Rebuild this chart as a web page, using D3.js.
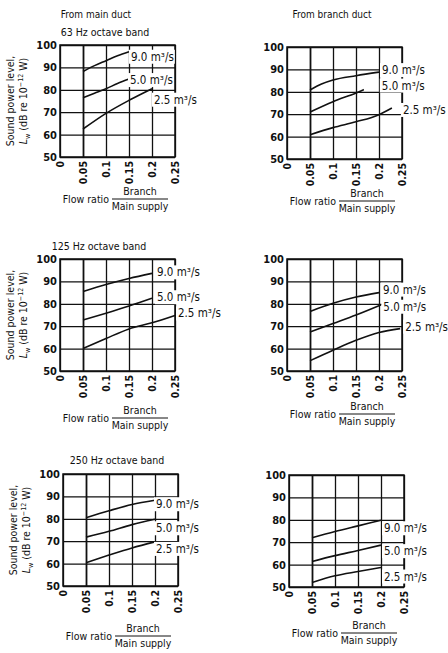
<!DOCTYPE html>
<html>
<head>
<meta charset="utf-8">
<script src="https://cdn.jsdelivr.net/npm/d3@7"></script>
<style>
  body { margin: 0; background: #fff; }
  svg { display: block; }
  text { font-family: "Liberation Sans Narrow", "DejaVu Sans Condensed", sans-serif; fill: #111; }
</style>
</head>
<body>
<div id="chart"></div>
<script>
// Column and row headings
const ducts = ["From main duct", "From branch duct"];
const bands = ["63 Hz octave band", "125 Hz octave band", "250 Hz octave band"];
const flowLabels = ["9.0 m³/s", "5.0 m³/s", "2.5 m³/s"];

// Axis ticks
const xTicks = [0, 0.05, 0.1, 0.15, 0.2, 0.25];
const xTickLabels = ["0", "0.05", "0.1", "0.15", "0.2", "0.25"];
const yTicks = [50, 60, 70, 80, 90, 100];

// Curves as [flow ratio, sound power level dB]
// 63 Hz, from main duct
const main63_9  = [[0.05, 88.2], [0.075, 90.8], [0.1, 93], [0.125, 95.2], [0.15, 97]];
const main63_5  = [[0.05, 76.5], [0.075, 78.5], [0.1, 80.5], [0.125, 82.8], [0.15, 84.8]];
const main63_25 = [[0.05, 62.5], [0.1, 69.5], [0.15, 75.3], [0.2, 80.5]];
// 63 Hz, from branch duct
const branch63_9  = [[0.05, 80.8], [0.075, 83.5], [0.1, 85.3], [0.15, 87.2], [0.2, 88.8]];
const branch63_5  = [[0.05, 71], [0.1, 75.6], [0.15, 79.5], [0.167, 81]];
const branch63_25 = [[0.05, 60.8], [0.1, 64], [0.15, 66.6], [0.2, 69.8], [0.228, 72.8]];
// 125 Hz, from main duct
const main125_9  = [[0.05, 85.5], [0.1, 88.6], [0.15, 91.3], [0.2, 93.6]];
const main125_5  = [[0.05, 72.8], [0.1, 75.8], [0.15, 79], [0.2, 82.5]];
const main125_25 = [[0.05, 60], [0.1, 64.5], [0.15, 68.8], [0.2, 71.5], [0.25, 74.8]];
// 125 Hz, from branch duct
const branch125_9  = [[0.05, 76.6], [0.1, 80.2], [0.15, 83], [0.2, 85]];
const branch125_5  = [[0.05, 67.4], [0.1, 71.2], [0.15, 75], [0.205, 79.6]];
const branch125_25 = [[0.05, 54.6], [0.1, 59.3], [0.15, 63.7], [0.2, 67.2], [0.246, 68.9]];
// 250 Hz, from main duct
const main250_9  = [[0.05, 80.5], [0.1, 83.6], [0.15, 86.4], [0.2, 88.3]];
const main250_5  = [[0.05, 71.8], [0.1, 74.4], [0.15, 77.4], [0.2, 79.8]];
const main250_25 = [[0.05, 60.4], [0.1, 63.8], [0.15, 67], [0.2, 69.7]];
// 250 Hz, from branch duct
const branch250_9  = [[0.05, 72], [0.1, 74.8], [0.15, 77.3], [0.2, 79.8]];
const branch250_5  = [[0.05, 61.4], [0.1, 64], [0.15, 66.3], [0.2, 68.7]];
const branch250_25 = [[0.05, 52], [0.1, 55], [0.15, 56.9], [0.2, 58.7]];

const plotW = 115, plotH = 112;

// Layout of the six panels (positions, label offsets in px)
const panels = [
  {col: 0, left: 60,  top: 45,  band: bands[0], curves: [main63_9, main63_5, main63_25],
   labelShift: [[2, 5], [1, 1], [2, 11]], fracY: 42, bandX: 105, bandY: 36},
  {col: 1, left: 287, top: 47,  band: null, curves: [branch63_9, branch63_5, branch63_25],
   labelShift: [[3, -2], [18, -4], [11, 2]], fracY: 42},
  {col: 0, left: 60,  top: 259, band: bands[1], curves: [main125_9, main125_5, main125_25],
   labelShift: [[5, -1], [5, -1], [3, -2]], fracY: 47, bandX: 99, bandY: 250},
  {col: 1, left: 287, top: 259, band: null, curves: [branch125_9, branch125_5, branch125_25],
   labelShift: [[4, -3], [2, 2], [5, -2]], fracY: 43},
  {col: 0, left: 63,  top: 474, band: bands[2], curves: [main250_9, main250_5, main250_25],
   labelShift: [[1, 4], [1, 9], [1, 7]], fracY: 50, bandX: 117, bandY: 464},
  {col: 1, left: 289, top: 475, band: null, curves: [branch250_9, branch250_5, branch250_25],
   labelShift: [[3, 8], [3, 6], [3, 9]], fracY: 46}
];

const svg = d3.select("#chart").append("svg")
    .attr("width", 448)
    .attr("height", 653);

// Column headings
svg.selectAll(".duct")
    .data(ducts)
    .enter().append("text")
    .attr("class", "duct")
    .attr("x", (d, i) => i === 0 ? 96 : 332)
    .attr("y", 18)
    .attr("text-anchor", "middle")
    .style("font-size", "10px")
    .text(d => d);

const x = d3.scaleLinear().domain([0, 0.25]).range([0, plotW]);
const y = d3.scaleLinear().domain([50, 100]).range([plotH, 0]);
const line = d3.line()
    .x(d => x(d[0]))
    .y(d => y(d[1]))
    .curve(d3.curveMonotoneX);

panels.forEach(function(p) {
  const g = svg.append("g")
      .attr("transform", "translate(" + p.left + "," + p.top + ")");

  // Horizontal grid + y labels
  const yAxis = g.append("g")
      .call(d3.axisLeft(y).tickValues(yTicks).tickSize(-plotW).tickPadding(3));
  yAxis.select(".domain").remove();
  yAxis.selectAll("line").attr("stroke", "#111").attr("stroke-width", 1.3);
  yAxis.selectAll("text")
      .style("font-size", "11px")
      .style("font-weight", "bold");

  // Vertical grid + rotated x labels
  const xAxis = g.append("g")
      .attr("transform", "translate(0," + plotH + ")")
      .call(d3.axisBottom(x).tickValues(xTicks).tickSize(-plotH)
        .tickFormat((d, i) => xTickLabels[i]));
  xAxis.select(".domain").remove();
  xAxis.selectAll("line")
      .attr("stroke", "#111")
      .attr("stroke-width", d => d === 0.05 ? 1.8 : 1.3);
  xAxis.selectAll("text")
      .attr("transform", "rotate(-90)")
      .attr("text-anchor", "end")
      .attr("x", -4)
      .attr("y", 0)
      .attr("dy", "0.35em")
      .style("font-size", "10.5px")
      .style("font-weight", "bold");

  // Frame
  g.append("rect")
      .attr("width", plotW)
      .attr("height", plotH)
      .attr("fill", "none")
      .attr("stroke", "#111")
      .attr("stroke-width", 1.5);

  // Curves
  g.selectAll(".curve")
      .data(p.curves)
      .enter().append("path")
      .attr("class", "curve")
      .attr("fill", "none")
      .attr("stroke", "#111")
      .attr("stroke-width", 1.6)
      .attr("d", line);

  // Flow labels with white background
  p.curves.forEach(function(c, i) {
    const end = c[c.length - 1];
    const lg = g.append("g")
        .attr("transform", "translate(" + (x(end[0]) + p.labelShift[i][0]) + "," +
              (y(end[1]) + p.labelShift[i][1]) + ")");
    const t = lg.append("text")
        .attr("dy", "0.35em")
        .style("font-size", "11.5px")
        .text(flowLabels[i]);
    const bb = t.node().getBBox();
    lg.insert("rect", "text")
        .attr("x", bb.x - 2)
        .attr("y", bb.y)
        .attr("width", bb.width + 3)
        .attr("height", bb.height)
        .attr("fill", "#fff");
  });

  // Band title
  if (p.band) {
    svg.append("text")
        .attr("x", p.bandX)
        .attr("y", p.bandY)
        .attr("text-anchor", "middle")
        .style("font-size", "10.5px")
        .text(p.band);
  }

  // Y axis title (left column only)
  if (p.col === 0) {
    const cy = p.top + plotH / 2;
    svg.append("text")
        .attr("transform", "translate(" + (p.left - 46) + "," + cy + ") rotate(-90)")
        .attr("text-anchor", "middle")
        .style("font-size", "10.5px")
        .text("Sound power level,");
    const t2 = svg.append("text")
        .attr("transform", "translate(" + (p.left - 33) + "," + cy + ") rotate(-90)")
        .attr("text-anchor", "middle")
        .style("font-size", "10.5px");
    t2.append("tspan").style("font-style", "italic").text("L");
    t2.append("tspan").attr("dy", 3).style("font-size", "7px").text("w");
    t2.append("tspan").attr("dy", -3).text(" (dB re 10");
    t2.append("tspan").attr("dy", -4).style("font-size", "7px").text("−12");
    t2.append("tspan").attr("dy", 4).text(" W)");
  }

  // Flow ratio fraction
  const fy = p.top + plotH + p.fracY;
  const fx = p.left + 80;
  svg.append("text")
      .attr("x", p.left + 49)
      .attr("y", fy)
      .attr("dy", "0.35em")
      .attr("text-anchor", "end")
      .style("font-size", "10.5px")
      .text("Flow ratio");
  svg.append("line")
      .attr("x1", p.left + 52).attr("x2", p.left + 108)
      .attr("y1", fy).attr("y2", fy)
      .attr("stroke", "#111").attr("stroke-width", 1);
  svg.append("text")
      .attr("x", fx).attr("y", fy - 4)
      .attr("text-anchor", "middle")
      .style("font-size", "10.5px")
      .text("Branch");
  svg.append("text")
      .attr("x", fx).attr("y", fy + 11)
      .attr("text-anchor", "middle")
      .style("font-size", "10.5px")
      .text("Main supply");
});
</script>
</body>
</html>
